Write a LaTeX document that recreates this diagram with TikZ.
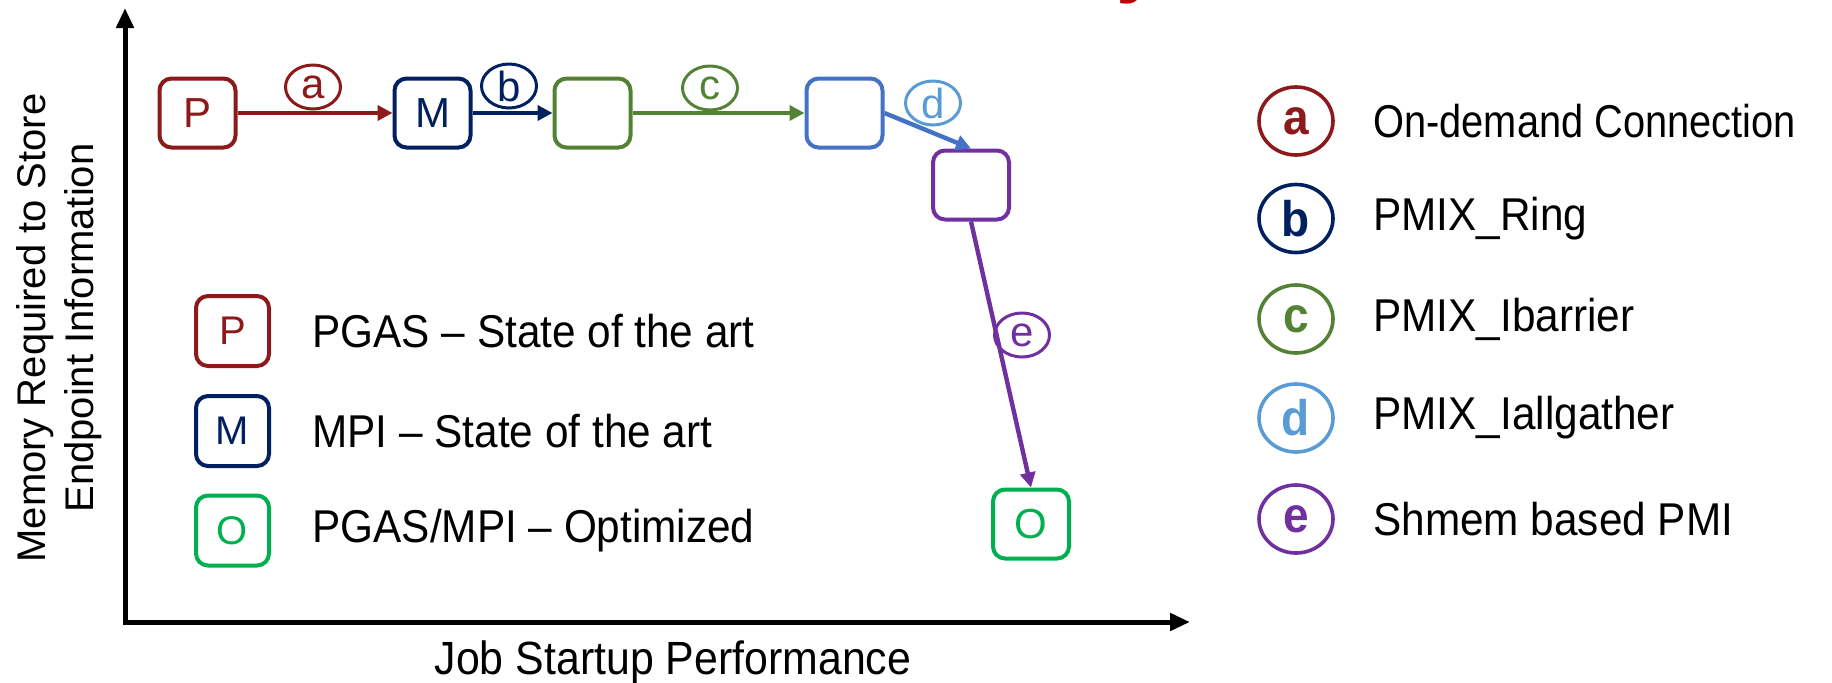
\documentclass[tikz,border=0pt]{standalone}
\usepackage{fontspec}
\setmainfont{Liberation Sans}
\newfontfamily\condfont[FakeStretch=0.92]{Liberation Sans}
\newfontfamily\narrowfont[FakeStretch=0.865]{Liberation Sans}
\usetikzlibrary{arrows.meta,shapes.geometric}
\definecolor{cP}{RGB}{140,26,26}
\definecolor{cM}{RGB}{0,32,96}
\definecolor{cC}{RGB}{84,130,53}
\definecolor{cD}{RGB}{68,114,196}
\definecolor{cDl}{RGB}{91,155,213}
\definecolor{cE}{RGB}{112,48,160}
\definecolor{cO}{RGB}{0,176,80}
\definecolor{cT}{RGB}{192,0,0}
\tikzset{
  stagebox/.style={draw, line width=2pt, rounded corners=6pt, minimum width=38pt, minimum height=34.5pt, inner sep=0pt, fill=white, font=\fontsize{21}{21}\selectfont},
  legbox/.style={stagebox, minimum width=36.5pt, minimum height=35pt, font=\fontsize{20}{20}\selectfont},
  lbl/.style={ellipse, draw, line width=1.5pt, minimum width=27.5pt, minimum height=22pt, inner sep=0pt, font=\fontsize{21}{21}\selectfont},
  keylbl/.style={ellipse, draw, line width=1.8pt, minimum width=37pt, minimum height=34pt, inner sep=0pt, font=\condfont\bfseries\fontsize{25}{25}\selectfont},
  conn/.style={line width=2.2pt, -{Triangle[length=7.5pt,width=7.5pt]}},
  axisline/.style={line width=2.5pt, line join=miter, {Triangle[length=10pt,width=8.5pt]}-{Triangle[length=10pt,width=8.5pt]}},
  legtxt/.style={anchor=west, inner sep=0pt, font=\condfont\fontsize{23}{23}\selectfont},
}
\begin{document}
\begin{tikzpicture}[x=0.5pt,y=-0.5pt]
\useasboundingbox (0,0) rectangle (1832,682);
% partial title glyph (cropped by the page edge, as in the reference)
\node[anchor=base west, inner sep=0pt, text=cT, font=\bfseries\fontsize{40}{40}\selectfont] (ttl) at (1116,-13) {y};
% axes
\coordinate (ytop) at (125,8);
\coordinate (corner) at (125,622);
\coordinate (xend) at (1190,622);
\draw[axisline] (ytop) -- (corner) -- (xend);
\node[rotate=90, align=center, font=\fontsize{20}{24}\selectfont] (ylab) at (59,328) {Memory Required to Store\\Endpoint Information};
\node[anchor=base, font=\condfont\fontsize{23.3}{23.3}\selectfont] (xlab) at (673,674) {Job Startup Performance};
% stages
\node[stagebox, draw=cP, text=cP] (P) at (197.5,113) {P};
\node[stagebox, draw=cM, text=cM] (M) at (432.5,113) {M};
\node[stagebox, draw=cC] (G) at (592.5,113) {};
\node[stagebox, draw=cD] (B) at (844.5,113) {};
\node[stagebox, draw=cE] (U) at (971,185) {};
\node[stagebox, draw=cO, text=cO] (O) at (1031,524) {O};
% connectors
\draw[conn, cP] (P.east) -- (M.west);
\draw[conn, cM] (M.east) -- (G.west);
\draw[conn, cC] (G.east) -- (B.west);
\draw[conn, cD] (B.east) -- (U.north);
\draw[conn, cE] (U.south) -- (O.north);
% connector labels
\node[lbl, draw=cP, text=cP] (la) at (313,87) {a};
\node[lbl, draw=cM, text=cM] (lb) at (509,86) {b};
\node[lbl, draw=cC, text=cC] (lc) at (710,88) {c};
\node[lbl, draw=cDl, text=cDl] (ld) at (933,103) {d};
\node[lbl, draw=cE, text=cE] (le) at (1022,335) {e};
% left legend
\node[legbox, draw=cP, text=cP] (kP) at (232.5,331) {P};
\node[legbox, draw=cM, text=cM] (kM) at (232.5,431) {M};
\node[legbox, draw=cO, text=cO] (kO) at (232.5,530.5) {O};
\node[legtxt] (tP) at (312,331) {PGAS – State of the art};
\node[legtxt] (tM) at (312,431) {MPI – State of the art};
\node[legtxt] (tO) at (312,530.5) {PGAS/MPI – Optimized};
% right legend
\node[keylbl, draw=cP, text=cP] (ka) at (1296,121) {a};
\node[keylbl, draw=cM, text=cM] (kb) at (1296,218.5) {b};
\node[keylbl, draw=cC, text=cC] (kc) at (1296,319) {c};
\node[keylbl, draw=cDl, text=cDl] (kd) at (1296,418) {d};
\node[keylbl, draw=cE, text=cE] (ke) at (1296,519) {e};
\node[legtxt, font=\narrowfont\fontsize{23}{23}\selectfont] (ta) at (1373,121) {On-demand Connection};
\node[legtxt] (tb) at (1373,218.5) {PMIX\_Ring};
\node[legtxt] (tc) at (1373,319) {PMIX\_Ibarrier};
\node[legtxt] (td) at (1373,418) {PMIX\_Iallgather};
\node[legtxt] (te) at (1373,519) {Shmem based PMI};
\end{tikzpicture}
\end{document}
